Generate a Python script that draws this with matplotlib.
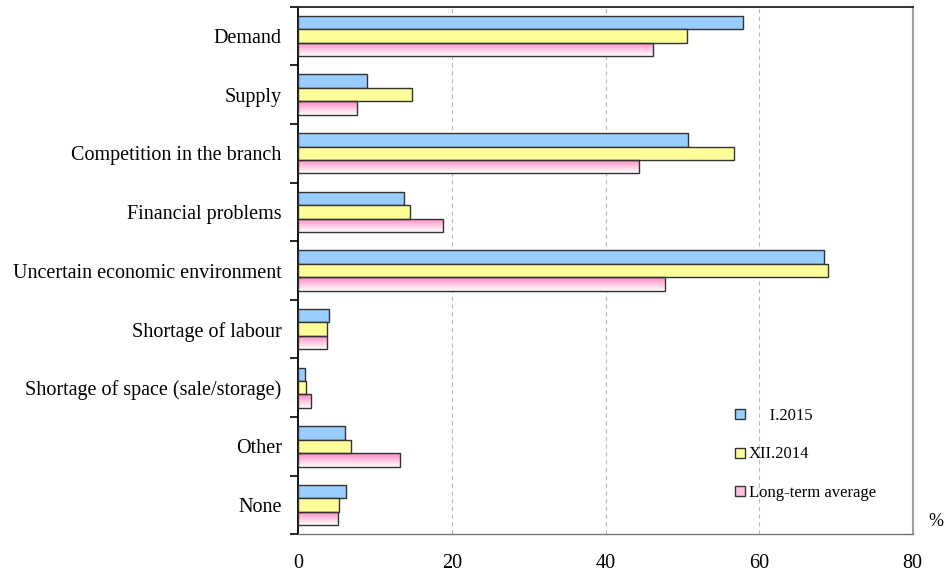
import numpy as np
import matplotlib
matplotlib.use('Agg')
import matplotlib.pyplot as plt
from matplotlib.patches import Patch
from matplotlib.colors import to_rgb

plt.rcParams['font.family'] = ['Liberation Serif', 'DejaVu Serif']

categories = ['Demand', 'Supply', 'Competition in the branch', 'Financial problems',
              'Uncertain economic environment', 'Shortage of labour',
              'Shortage of space (sale/storage)', 'Other', 'None']
jan_2015 = [57.9, 9.0, 50.7, 13.7, 68.5, 4.0, 0.9, 6.1, 6.2]
dec_2014 = [50.6, 14.8, 56.7, 14.5, 69.0, 3.7, 1.0, 6.8, 5.3]
long_term = [46.2, 7.7, 44.4, 18.9, 47.7, 3.8, 1.7, 13.2, 5.2]
series_labels = ['     I.2015', 'XII.2014', 'Long-term average']
x_ticks = [0, 20, 40, 60, 80]

fig = plt.figure(figsize=(9.48, 5.77), dpi=100)
ax = fig.add_axes([298.3/948, 1-534.3/577, (912.7-298.3)/948, (534.3-6.7)/577])

y = np.arange(len(categories))
h = 0.229
edge = '#333333'

ax.barh(y - h, jan_2015, height=h, color='#99CCFF', edgecolor=edge, lw=1, zorder=3)
ax.barh(y, dec_2014, height=h, color='#FFFF99', edgecolor=edge, lw=1, zorder=3)
pink_bars = ax.barh(y + h, long_term, height=h, facecolor='none', edgecolor=edge, lw=1, zorder=3)

# pink-to-white vertical gradient inside the long-term bars
top = np.array(to_rgb('#FF7FBF'))
t = np.linspace(0, 1, 64)
w = np.clip(t, 0, 1) ** 0.9
grad = (top[None, :] * (1 - w[:, None]) + w[:, None]).reshape(64, 1, 3)
for yi, v, bar in zip(y, long_term, pink_bars):
    im = ax.imshow(grad, extent=(0, v, yi + 1.5*h, yi + 0.5*h), origin='upper',
                   aspect='auto', interpolation='bilinear', zorder=2)
    im.set_clip_path(bar)

ax.set_xlim(0, 80)
ax.set_ylim(len(categories) - 0.5, -0.5)

for gx in x_ticks[1:-1]:
    ax.axvline(gx, color='#BBBBBB', lw=0.8, ls=(0, (4, 3)), zorder=1)

ax.set_xticks(x_ticks)
ax.set_xticklabels([str(v) for v in x_ticks], fontsize=14.5)
ax.tick_params(axis='x', length=0, pad=14)

ax.set_yticks(y)
ax.set_yticklabels(categories, fontsize=14.5)
ax.set_yticks(np.arange(len(categories) + 1) - 0.5, minor=True)
ax.tick_params(axis='y', which='major', length=0, pad=12)
ax.tick_params(axis='y', which='minor', length=6, width=1.2, color='black', direction='out')

ax.spines['left'].set_color('black')
ax.spines['left'].set_linewidth(1.3)
ax.spines['top'].set_color('#222222')
ax.spines['top'].set_linewidth(1.3)
ax.spines['right'].set_color('#A0A0A0')
ax.spines['right'].set_linewidth(1.5)
ax.spines['bottom'].set_color('#777777')
ax.spines['bottom'].set_linewidth(1.0)

handles = [Patch(facecolor='#99CCFF', edgecolor=edge, lw=1),
           Patch(facecolor='#FFFF99', edgecolor=edge, lw=1),
           Patch(facecolor='#FFC2E0', edgecolor=edge, lw=1)]
ax.legend(handles, series_labels, loc='upper left', frameon=False, fontsize=12,
          bbox_to_anchor=(735/948, 1-408/577), bbox_transform=fig.transFigure,
          borderpad=0, borderaxespad=0, handlelength=0.62, handleheight=0.55,
          handletextpad=0.2, labelspacing=1.35)

fig.text(936/948, 1-521/577, '%', fontsize=13, ha='center', va='center')

fig.savefig('out.png', dpi=100)
